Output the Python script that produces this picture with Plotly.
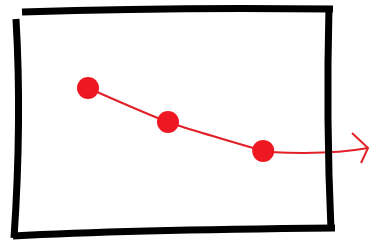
import plotly.graph_objects as go

# Data (sketch values)
steps = [1.0, 2.0, 3.19]
values = [3.0, 2.0, 1.15]

W, H = 370, 240
X_RANGE = [-0.1, -0.1 + W / 80.0]
Y_TOP = 3.0 + 88 / 34.0
Y_RANGE = [Y_TOP - H / 34.0, Y_TOP]

RED = "rgb(238,24,34)"
LINE_RED = "rgb(226,32,40)"


def P(px, py):
    return f"{px / W:.4f},{1 - py / H:.4f}"


def path(*cmds):
    out = []
    for c in cmds:
        if isinstance(c, str):
            out.append(c)
        else:
            out.append(P(*c))
    return " ".join(out)


fig = go.Figure()
fig.add_trace(go.Scatter(
    x=steps, y=values, mode="lines+markers",
    line=dict(color=LINE_RED, width=2, shape="spline", smoothing=0.6),
    marker=dict(color=RED, size=22, line=dict(width=0)),
    hoverinfo="skip", showlegend=False,
))

frame = [
    path("M", (22, 12), "Q", (170, 7), (333, 9)),
    path("M", (329, 6), "Q", (326, 120), (331, 230)),
    path("M", (13, 236), "Q", (120, 230), (335, 228)),
    path("M", (16, 19), "Q", (22, 120), (14, 238)),
]
shapes = [dict(type="path", xref="paper", yref="paper", path=p,
               line=dict(color="black", width=7), layer="above") for p in frame]
# arrow tail and head
shapes.append(dict(type="path", xref="paper", yref="paper",
                   path=path("M", (270, 152), "Q", (330, 155), (368, 148)),
                   line=dict(color=LINE_RED, width=2), layer="below"))
shapes.append(dict(type="path", xref="paper", yref="paper",
                   path=path("M", (352, 133), "L", (368, 148), "L", (361, 163)),
                   line=dict(color=LINE_RED, width=2), layer="below"))

fig.update_layout(
    width=W, height=H,
    margin=dict(l=0, r=0, t=0, b=0),
    paper_bgcolor="white", plot_bgcolor="white",
    xaxis=dict(range=X_RANGE, visible=False, fixedrange=True),
    yaxis=dict(range=Y_RANGE, visible=False, fixedrange=True),
    shapes=shapes,
)
fig.write_html("out.html", config={"displayModeBar": False},
               post_script="document.body.style.margin='0';document.body.style.overflow='hidden';")
